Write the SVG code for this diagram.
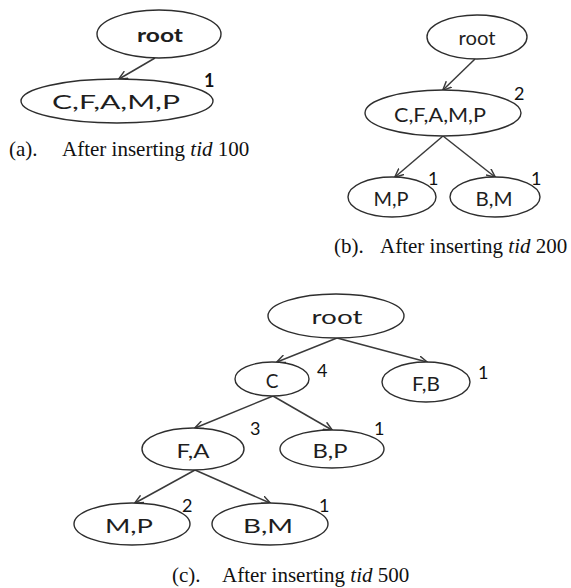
<svg xmlns="http://www.w3.org/2000/svg" width="571" height="588" viewBox="0 0 571 588">
<style>
.n ellipse{fill:#fff;stroke:#2e2e2e;stroke-width:1.4}
.n text{font-family:Lato,"Open Sans","Liberation Sans",sans-serif;fill:#1e1e1e;text-anchor:middle;dominant-baseline:central;font-size:19px}
.c{font-family:Lato,"Open Sans","Liberation Sans",sans-serif;fill:#111;font-size:18px}
.cap{font-family:"Liberation Serif","Times New Roman",serif;fill:#111;font-size:21px}
#edges line{stroke:#3a3a3a;stroke-width:1.5;marker-end:url(#ah)}
</style>
<defs>
<marker id="ah" viewBox="0 0 10 10" refX="9.5" refY="5" markerWidth="9" markerHeight="9" markerUnits="userSpaceOnUse" orient="auto">
<path d="M0,0.5 L10,5 L0,9.5" fill="none" stroke="#3a3a3a" stroke-width="1.6"/>
</marker>
</defs>
<rect width="571" height="588" fill="#fff"/>
<g id="edges">
<line x1="155" y1="58" x2="119" y2="79"/>
<line x1="475" y1="59" x2="443" y2="90"/>
<line x1="443" y1="136" x2="395" y2="177"/>
<line x1="443" y1="136" x2="495" y2="177"/>
<line x1="337" y1="338" x2="277" y2="362"/>
<line x1="337" y1="338" x2="427" y2="362"/>
<line x1="273" y1="396" x2="195" y2="428"/>
<line x1="273" y1="396" x2="332" y2="430"/>
<line x1="195" y1="470" x2="135" y2="503"/>
<line x1="195" y1="470" x2="270" y2="503"/>
</g>
<g id="a-root" class="n"><ellipse cx="159" cy="34" rx="62" ry="24"/><text x="160" y="34" font-weight="bold" textLength="46" lengthAdjust="spacingAndGlyphs">root</text></g>
<g id="a-cfamp" class="n"><ellipse cx="117" cy="101" rx="96" ry="22"/><text x="116" y="101" font-size="20" textLength="128" lengthAdjust="spacingAndGlyphs">C,F,A,M,P</text></g>
<text class="c" x="204" y="87" font-weight="bold">1</text>
<text class="cap" y="156"><tspan x="9">(a).</tspan><tspan x="62">After inserting </tspan><tspan font-style="italic">tid</tspan> 100</text>

<g id="b-root" class="n"><ellipse cx="477" cy="37" rx="50" ry="22"/><text x="477" y="37" textLength="37" lengthAdjust="spacingAndGlyphs">root</text></g>
<g id="b-cfamp" class="n"><ellipse cx="443" cy="113" rx="78" ry="23"/><text x="440" y="114" textLength="92" lengthAdjust="spacingAndGlyphs">C,F,A,M,P</text></g>
<text class="c" x="514" y="100">2</text>
<g id="b-mp" class="n"><ellipse cx="392" cy="197" rx="44" ry="20"/><text x="391" y="198" textLength="35" lengthAdjust="spacingAndGlyphs">M,P</text></g>
<text class="c" x="428" y="185">1</text>
<g id="b-bm" class="n"><ellipse cx="495" cy="197" rx="45" ry="20"/><text x="494" y="198" textLength="37" lengthAdjust="spacingAndGlyphs">B,M</text></g>
<text class="c" x="531" y="185">1</text>
<text class="cap" y="253"><tspan x="334">(b).</tspan><tspan x="380">After inserting </tspan><tspan font-style="italic">tid</tspan> 200</text>

<g id="c-root" class="n"><ellipse cx="336" cy="316" rx="68" ry="22"/><text x="337" y="316" font-size="20" textLength="51" lengthAdjust="spacingAndGlyphs">root</text></g>
<g id="c-c" class="n"><ellipse cx="272" cy="379" rx="37" ry="17"/><text x="272" y="380">C</text></g>
<text class="c" x="317" y="377">4</text>
<g id="c-fb" class="n"><ellipse cx="426" cy="382" rx="44" ry="20"/><text x="426" y="383" textLength="28" lengthAdjust="spacingAndGlyphs">F,B</text></g>
<text class="c" x="478" y="379">1</text>
<g id="c-fa" class="n"><ellipse cx="193" cy="449" rx="51" ry="21"/><text x="193" y="450" textLength="33" lengthAdjust="spacingAndGlyphs">F,A</text></g>
<text class="c" x="250" y="435">3</text>
<g id="c-bp" class="n"><ellipse cx="332" cy="449" rx="52" ry="19"/><text x="330" y="450" textLength="35" lengthAdjust="spacingAndGlyphs">B,P</text></g>
<text class="c" x="374" y="435">1</text>
<g id="c-mp" class="n"><ellipse cx="132" cy="524" rx="58" ry="21"/><text x="129" y="525" font-size="20" textLength="48" lengthAdjust="spacingAndGlyphs">M,P</text></g>
<text class="c" x="182" y="512">2</text>
<g id="c-bm" class="n"><ellipse cx="270" cy="524" rx="58" ry="21"/><text x="268" y="525" font-size="20" textLength="50" lengthAdjust="spacingAndGlyphs">B,M</text></g>
<text class="c" x="319" y="512">1</text>
<text class="cap" y="582"><tspan x="172">(c).</tspan><tspan x="222">After inserting </tspan><tspan font-style="italic">tid</tspan> 500</text>
</svg>
